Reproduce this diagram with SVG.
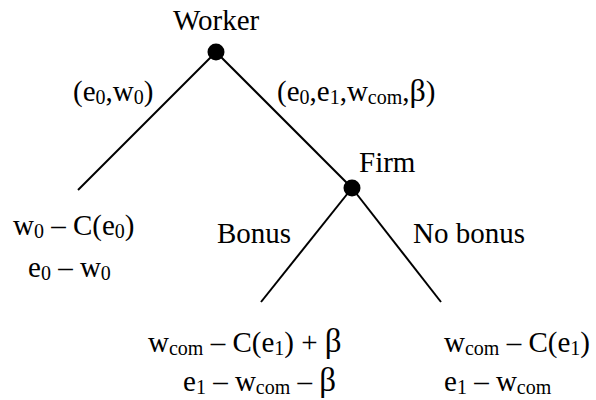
<svg xmlns="http://www.w3.org/2000/svg" width="596" height="400" viewBox="0 0 596 400">
<style>
.e line{stroke:#000;stroke-width:2}
.dot{fill:#000}
</style>
<rect width="596" height="400" fill="#fff"/>
<g id="connectors" class="e">
<line x1="216" y1="52" x2="78" y2="190"/>
<line x1="216" y1="52" x2="352" y2="188"/>
<line x1="352" y1="188" x2="261" y2="302"/>
<line x1="352" y1="188" x2="441" y2="302"/>
</g>
<g id="labels">
<text x="73" y="101" font-family="Liberation Serif" font-size="29">(e<tspan font-size="20" dy="3">0</tspan><tspan dy="-3">,w</tspan><tspan font-size="20" dy="3">0</tspan><tspan dy="-3">)</tspan></text>
<text x="277" y="101" font-family="Liberation Serif" font-size="29">(e<tspan font-size="20" dy="3">0</tspan><tspan dy="-3">,e</tspan><tspan font-size="20" dy="3">1</tspan><tspan dy="-3">,w</tspan><tspan font-size="20" dy="3">com</tspan><tspan dy="-3">,</tspan><tspan font-size="32">β</tspan>)</text>
<text x="217" y="243" font-family="Liberation Serif" font-size="29">Bonus</text>
<text x="413" y="243" font-family="Liberation Serif" font-size="29">No bonus</text>
</g>
<g id="worker">
<text x="173" y="30" font-family="Liberation Serif" font-size="29">Worker</text>
<circle class="dot" cx="216" cy="52" r="8.5"/>
</g>
<g id="firm">
<text x="359" y="172" font-family="Liberation Serif" font-size="29">Firm</text>
<circle class="dot" cx="352" cy="188" r="8.5"/>
</g>
<g id="outcome-left">
<text x="13" y="235" font-family="Liberation Serif" font-size="29">w<tspan font-size="20" dy="3">0</tspan><tspan dy="-3"> – C(e</tspan><tspan font-size="20" dy="3">0</tspan><tspan dy="-3">)</tspan></text>
<text x="28" y="277" font-family="Liberation Serif" font-size="29">e<tspan font-size="20" dy="3">0</tspan><tspan dy="-3"> – w</tspan><tspan font-size="20" dy="3">0</tspan></text>
</g>
<g id="outcome-bonus">
<text x="148" y="352" font-family="Liberation Serif" font-size="29">w<tspan font-size="20" dy="3">com</tspan><tspan dy="-3"> – C(e</tspan><tspan font-size="20" dy="3">1</tspan><tspan dy="-3">) + </tspan><tspan font-size="33">β</tspan></text>
<text x="183" y="391" font-family="Liberation Serif" font-size="29">e<tspan font-size="20" dy="3">1</tspan><tspan dy="-3"> – w</tspan><tspan font-size="20" dy="3">com</tspan><tspan dy="-3"> – </tspan><tspan font-size="33">β</tspan></text>
</g>
<g id="outcome-nobonus">
<text x="444" y="352" font-family="Liberation Serif" font-size="29">w<tspan font-size="20" dy="3">com</tspan><tspan dy="-3"> – C(e</tspan><tspan font-size="20" dy="3">1</tspan><tspan dy="-3">)</tspan></text>
<text x="444" y="391" font-family="Liberation Serif" font-size="29">e<tspan font-size="20" dy="3">1</tspan><tspan dy="-3"> – w</tspan><tspan font-size="20" dy="3">com</tspan></text>
</g>
</svg>
